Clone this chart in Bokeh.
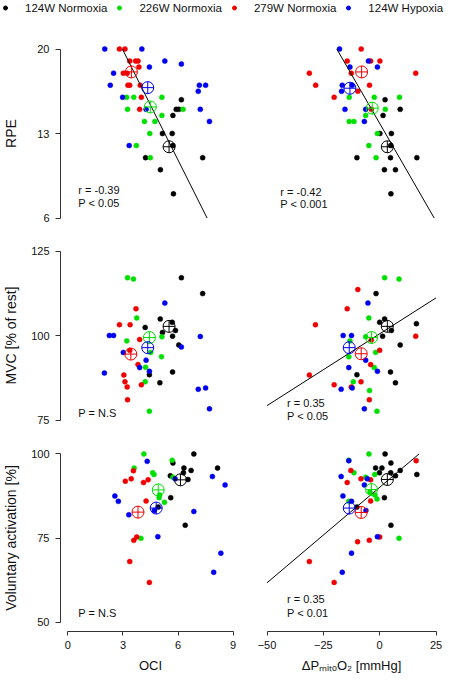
from bokeh.plotting import figure
from bokeh.layouts import column, row
from bokeh.models import Range1d, FixedTicker, Legend, LegendItem, Label, ColumnDataSource
from bokeh.embed import file_html
from bokeh.resources import INLINE

FONT = "Liberation Sans"

groups = ["124W Normoxia", "226W Normoxia", "279W Normoxia", "124W Hypoxia"]
colors = ["#000000", "#00e000", "#f00000", "#0000f0"]

# ---------------- tick values ----------------
oci_ticks = [0, 3, 6, 9]
dp_ticks = [-50, -25, 0, 25]
rpe_ticks = [6, 13, 20]
mvc_ticks = [75, 100, 125]
va_ticks = [50, 75, 100]

# ---------------- Panel A: OCI vs RPE ----------------
xA_n124 = [6.18, 5.90, 6.04, 5.72, 5.15, 5.68, 5.72, 4.23, 7.34, 5.04, 5.75]
yA_n124 = [15.8, 15, 15, 14.5, 13, 13, 12, 11, 11, 10, 8]
xA_n226 = [3.20, 3.59, 5.12, 3.25, 6.27, 5.12, 4.17, 4.74, 4.46, 3.73, 4.49]
yA_n226 = [16, 16, 16, 15, 15, 14.5, 14, 14, 13, 12, 11]
xA_n279 = [2.81, 3.11, 3.37, 3.69, 3.82, 3.87, 3.02, 3.23, 3.27, 3.37, 3.94, 4.00, 3.91]
yA_n279 = [20, 20, 19, 19, 19, 18.5, 18, 18, 17, 17, 17, 16, 15]
xA_h124 = [2.01, 4.03, 5.28, 6.18, 4.44, 2.49, 2.31, 7.16, 7.50, 7.10, 2.98, 4.26, 7.21, 7.71, 3.34]
yA_h124 = [20, 20, 19, 18.75, 18.5, 18, 17, 17, 17, 16.5, 16, 15, 15, 14, 12]
mxA = [5.51, 4.49, 3.46, 4.35]
myA = [11.9, 15.2, 18.1, 16.8]
fitA = [-3.037, 29.02]   # slope, intercept

# ---------------- Panel B: dPmitoO2 vs RPE ----------------
xB_n124 = [2.4, 9.1, 1.5, 0.1, 5.2, 4.9, -10.1, 4.8, 16.5, 2.1, 7.0, 5.0]
yB_n124 = [15.8, 15, 14.5, 13, 13, 12, 11, 11, 11, 10, 10, 8]
xB_n226 = [-13.5, -2.4, 8.8, 2.5, -6.2, -13.5, -11.4, -1.0, -4.8, -1.6]
yB_n226 = [16, 16, 16, 15, 14.5, 14, 14, 13, 12, 11]
xB_n279 = [-8.2, -14.4, -4.0, 0.1, -31.2, -12.6, 16.0, -28.4, -4.5, -9.7, -20.2, -3.7]
yB_n279 = [20, 19, 19, 19, 18, 18, 18, 17, 17, 16.5, 16, 15]
xB_h124 = [-17.8, -5.0, -13.2, -1.0, -16.6, -12.2, -16.9, -15.4, -6.2, -6.8]
yB_h124 = [20, 19, 18.5, 18.5, 17, 17, 16.5, 15, 15, 14]
mxB = [3.4, -3.3, -8.0, -13.2]
myB = [11.9, 15.1, 18.1, 16.75]
fitB = [-0.324, 13.84]

# ---------------- Panel C: OCI vs MVC ----------------
xC_n124 = [6.18, 7.34, 5.03, 4.21, 5.68, 5.86, 5.15, 5.70, 6.04, 4.44, 5.70, 5.01]
yC_n124 = [117.1, 112.4, 104.9, 102.4, 103.9, 101.5, 100.9, 99.8, 97.2, 88.4, 89.2, 86.0]
xC_n226 = [3.25, 3.57, 3.75, 5.12, 3.21, 4.51, 5.10, 4.23, 4.21, 4.44]
yC_n226 = [117.1, 116.7, 105.2, 99.6, 98.4, 95.0, 93.7, 90.6, 86.3, 77.6]
xC_n279 = [3.71, 2.81, 3.39, 3.91, 3.37, 3.82, 3.05, 3.11, 3.23, 4.00, 3.25]
yC_n279 = [107.9, 103.2, 103.2, 98.8, 95.6, 91.4, 88.3, 86.3, 84.8, 85.4, 81.0]
xC_h124 = [5.28, 2.26, 2.49, 7.21, 6.18, 3.02, 4.26, 3.91, 4.44, 1.99, 7.10, 7.50, 7.71]
yC_h124 = [109.6, 100, 100, 99.7, 96.6, 95.0, 92.7, 90.5, 89.4, 88.9, 84.1, 84.5, 78.3]
mxC = [5.51, 4.44, 3.43, 4.35]
myC = [102.7, 99.4, 94.5, 96.4]

# ---------------- Panel D: dPmitoO2 vs MVC ----------------
xD_n124 = [-1.6, 2.2, 0.0, 16.3, 5.2, 1.3, 9.1, -10.1, 4.8, 7.0]
yD_n124 = [112.4, 104.9, 103.9, 103.5, 101.5, 99.8, 97.2, 88.4, 89.2, 86.0]
xD_n226 = [2.2, 8.6, -4.8, -6.2, -13.2, -1.8, -13.7, -2.4, -11.7, -4.5, -1.2]
yD_n226 = [117.1, 116.7, 105.2, 99.6, 98.4, 95.0, 93.7, 90.5, 86.3, 83.7, 77.6]
xD_n279 = [-9.7, -14.4, -28.5, -3.7, 16.0, 0.0, -4.0, -31.2, -8.3, -20.2, -12.6, -4.6]
yD_n279 = [113.6, 107.9, 103.2, 98.7, 99.8, 95.6, 91.4, 88.3, 86.3, 85.4, 84.8, 81.0]
xD_h124 = [-5.2, -16.2, -12.5, -6.2, -13.7, -1.0, -17.1, -12.2, -6.8]
yD_h124 = [109.6, 100, 100, 92.7, 90.5, 89.4, 84.1, 84.5, 78.3]
mxD = [3.4, -3.6, -8.2, -13.5]
myD = [102.7, 99.4, 94.6, 96.4]
fitD = [0.425, 100.5]

# ---------------- Panel E: OCI vs Voluntary activation ----------------
xE_n124 = [6.86, 5.72, 6.32, 6.29, 6.71, 8.15, 5.58, 6.54, 5.60, 4.92, 6.39]
yE_n124 = [100, 97.3, 95.8, 94.4, 95.1, 95.8, 93.5, 92.4, 87.0, 84.2, 78.8]
xE_n226 = [4.14, 5.68, 3.61, 4.62, 4.69, 5.72, 5.0, 4.97, 5.26, 3.98]
yE_n226 = [100, 98.1, 95.8, 94.4, 93.9, 93.1, 87.8, 87.0, 85.6, 74.9]
xE_n279 = [3.57, 3.13, 3.45, 4.12, 4.37, 4.26, 3.75, 3.59, 3.37, 4.44]
yE_n279 = [95.0, 91.9, 92.6, 91.5, 92.3, 86.0, 75.3, 74.3, 68.0, 61.8]
xE_h124 = [4.32, 7.87, 5.84, 8.56, 2.56, 2.75, 4.71, 3.32, 6.86, 4.90, 8.33, 7.94]
yE_h124 = [97.8, 93.3, 92.6, 90.8, 87.5, 85.9, 83.2, 81.9, 82.9, 75.4, 70.5, 64.8]
mxE = [6.13, 4.92, 3.82, 4.81]
myE = [92.3, 89.3, 82.7, 83.9]

# ---------------- Panel F: dPmitoO2 vs Voluntary activation ----------------
xF_n124 = [2.4, 5.0, -1.8, 1.0, -0.1, 4.9, 9.1, 16.5, 7.0, 2.1, -10.1, 5.0]
yF_n124 = [100, 97.3, 95.8, 95.8, 94.4, 94.4, 95.1, 93.9, 93.5, 87.0, 84.2, 78.8]
xF_n226 = [-4.75, -13.7, -11.4, -2.2, -6.2, -4.3, -2.1, -1.2, -13.7, 8.6]
yF_n226 = [100, 98.1, 94.4, 93.9, 93.1, 88.7, 87.8, 86.6, 85.9, 74.9]
xF_n279 = [-12.8, 16.2, -8.3, -4.0, -14.4, -4.0, 0.0, -4.6, -9.8, -31.2, -20.2]
yF_n279 = [95.1, 98.0, 92.6, 92.3, 91.5, 86.0, 75.3, 74.3, 73.9, 68.0, 61.8]
xF_h124 = [-13.7, -17.1, -5.5, -6.8, -16.3, -12.5, -6.1, -1.0, -12.5, -16.6]
yF_h124 = [98.0, 93.3, 92.6, 90.8, 87.5, 85.9, 83.2, 75.4, 70.5, 64.8]
mxF = [3.4, -3.6, -8.2, -13.5]
myF = [92.4, 89.4, 82.6, 83.9]
fitF = [0.568, 90.07]

# ---------------- layout constants ----------------
FRAME_W, FRAME_H = 184, 188
TICK_SPAN_PX = 169
TICK_FONT_PX = 11


def clipped_line(fit, xt, yt):
    m, b = fit
    x0, x1 = xt[0], xt[-1]
    y0, y1 = yt[0], yt[-1]
    xa, xb = sorted([(y0 - b) / m, (y1 - b) / m])
    lo, hi = max(x0, xa), min(x1, xb)
    return [lo, hi], [m * lo + b, m * hi + b]


def style_axis(ax, ticks, lab):
    ax.ticker = FixedTicker(ticks=ticks)
    ax.bounds = (ticks[0], ticks[-1])
    ax.axis_label = lab
    ax.axis_line_color = "#333333"
    ax.major_tick_line_color = "#333333"
    ax.minor_tick_line_color = None
    ax.major_tick_in = 0
    ax.major_label_text_font = FONT
    ax.major_label_text_font_size = f"{TICK_FONT_PX}px"
    ax.major_label_text_color = "#111111"
    ax.axis_label_text_font = FONT
    ax.axis_label_text_font_style = "normal"
    ax.axis_label_text_color = "#111111"


def panel(xs, ys, mx, my, xt, yt, left_col, bottom_row, borders, xlabel="", ylabel="",
          fit=None, notes=()):
    bl, br, bt, bb = borders
    px = (FRAME_W - TICK_SPAN_PX) / 2 / TICK_SPAN_PX * (xt[-1] - xt[0])
    py = (FRAME_H - TICK_SPAN_PX) / 2 / TICK_SPAN_PX * (yt[-1] - yt[0])
    p = figure(width=bl + FRAME_W + br, height=bt + FRAME_H + bb,
               x_range=Range1d(xt[0] - px, xt[-1] + px),
               y_range=Range1d(yt[0] - py, yt[-1] + py),
               x_axis_location="below" if bottom_row else None,
               y_axis_location="left" if left_col else None,
               toolbar_location=None, output_backend="svg",
               min_border_left=bl, min_border_right=br,
               min_border_top=bt, min_border_bottom=bb)
    p.outline_line_color = None
    p.grid.visible = False
    p.background_fill_color = "white"
    p.border_fill_color = "white"
    if bottom_row:
        style_axis(p.xaxis[0], xt, xlabel)
        p.xaxis.major_tick_out = 4
        p.xaxis.major_label_standoff = 5
        p.xaxis.axis_label_standoff = 6
        p.xaxis.axis_label_text_font_size = "13px"
    if left_col:
        style_axis(p.yaxis[0], yt, ylabel)
        p.yaxis.major_tick_out = 5
        p.yaxis.major_label_standoff = 6
        # keep the y title at a fixed distance regardless of tick label width
        max_digits = max(len(str(t)) for t in yt)
        p.yaxis.axis_label_standoff = int(9 + (3 - max_digits) * 0.556 * TICK_FONT_PX)
        p.yaxis.axis_label_text_font_size = "14px"

    for x, y, c in zip(xs, ys, colors):
        p.scatter(x=x, y=y, size=5, fill_color=c, line_color=c, line_width=0.5)
    if fit is not None:
        lx, ly = clipped_line(fit, xt, yt)
        p.line(x=lx, y=ly, line_color="black", line_width=1)
    src = ColumnDataSource(dict(x=mx, y=my, c=colors))
    p.scatter(x="x", y="y", source=src, marker="circle_cross", size=12,
              fill_color=None, line_color="c", line_width=1)
    for (nx, ny, txt) in notes:
        p.add_layout(Label(x=nx, y=ny, text=txt, text_font=FONT, text_font_size="11px",
                           text_baseline="middle", text_align="left", text_color="#111111"))
    return p


L_TOP = (56, 9, 17, 7)
R_TOP = (10, 4, 17, 7)
L_MID = (56, 9, 7, 7)
R_MID = (10, 4, 7, 7)
L_BOT = (56, 9, 8, 43)
R_BOT = (10, 4, 8, 43)

pA = panel([xA_n124, xA_n226, xA_n279, xA_h124], [yA_n124, yA_n226, yA_n279, yA_h124],
           mxA, myA, oci_ticks, rpe_ticks, True, False, L_TOP, ylabel="RPE", fit=fitA,
           notes=[(0.57, 8.32, "r = -0.39"), (0.57, 7.24, "P < 0.05")])
pB = panel([xB_n124, xB_n226, xB_n279, xB_h124], [yB_n124, yB_n226, yB_n279, yB_h124],
           mxB, myB, dp_ticks, rpe_ticks, False, False, R_TOP, fit=fitB,
           notes=[(-44.1, 8.15, "r = -0.42"), (-44.1, 7.12, "P < 0.001")])
pC = panel([xC_n124, xC_n226, xC_n279, xC_h124], [yC_n124, yC_n226, yC_n279, yC_h124],
           mxC, myC, oci_ticks, mvc_ticks, True, False, L_MID, ylabel="MVC [% of rest]",
           notes=[(0.57, 76.96, "P = N.S")])
pD = panel([xD_n124, xD_n226, xD_n279, xD_h124], [yD_n124, yD_n226, yD_n279, yD_h124],
           mxD, myD, dp_ticks, mvc_ticks, False, False, R_MID, fit=fitD,
           notes=[(-41.1, 79.9, "r = 0.35"), (-41.1, 76.3, "P < 0.05")])
pE = panel([xE_n124, xE_n226, xE_n279, xE_h124], [yE_n124, yE_n226, yE_n279, yE_h124],
           mxE, myE, oci_ticks, va_ticks, True, True, L_BOT, xlabel="OCI",
           ylabel="Voluntary activation [%]",
           notes=[(0.57, 52.7, "P = N.S")])
pF = panel([xF_n124, xF_n226, xF_n279, xF_h124], [yF_n124, yF_n226, yF_n279, yF_h124],
           mxF, myF, dp_ticks, va_ticks, False, True, R_BOT, xlabel="ΔPₘᵢₜₒO₂ [mmHg]", fit=fitF,
           notes=[(-41.1, 56.8, "r = 0.35"), (-41.1, 52.7, "P < 0.01")])

# ---------------- legend strip ----------------
leg = figure(width=447, height=22, x_range=Range1d(0, 1), y_range=Range1d(0, 1),
             x_axis_location=None, y_axis_location=None,
             toolbar_location=None, output_backend="svg", min_border=0)
leg.outline_line_color = None
leg.grid.visible = False
items = []
for g, c in zip(groups, colors):
    r = leg.scatter(x=[float("nan")], y=[float("nan")], size=5, fill_color=c, line_color=c)
    items.append(LegendItem(label=g, renderers=[r]))
legend = Legend(items=items, orientation="horizontal", location=(0, 8),
                glyph_width=10, glyph_height=13, label_height=13, label_standoff=15,
                spacing=7, padding=0, margin=0, border_line_color=None,
                background_fill_alpha=0, label_text_font=FONT, label_text_font_size="11.5px",
                label_text_color="#111111")
leg.add_layout(legend)

layout = column(leg, row(pA, pB), row(pC, pD), row(pE, pF))

open("out.html", "w").write(file_html(layout, INLINE))
